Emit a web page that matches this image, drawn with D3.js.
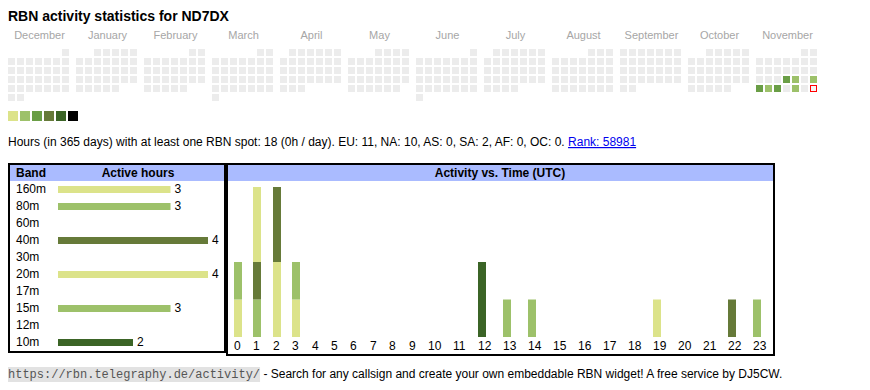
<!DOCTYPE html>
<html>
<head>
<meta charset="utf-8">
<script src="https://cdn.jsdelivr.net/npm/d3@7"></script>
<style>
  html, body { margin: 0; padding: 0; background: #fff; }
  svg { display: block; }
</style>
</head>
<body>
<svg id="chart" width="870" height="390" font-family="'Liberation Sans', Arial, Helvetica, sans-serif"></svg>
<script>
// ---------------- DATA ----------------
const title = "RBN activity statistics for ND7DX";
const months = ["December","January","February","March","April","May","June","July","August","September","October","November"];
const monthStarts = ["2024-12-01","2025-01-01","2025-02-01","2025-03-01","2025-04-01","2025-05-01","2025-06-01","2025-07-01","2025-08-01","2025-09-01","2025-10-01","2025-11-01"];
const levelColors = ["#dce38a","#9dc16a","#6a9e46","#667a39","#3b6426","#000000"];
const activeDays = ["2025-11-20","2025-11-21","2025-11-23","2025-11-24","2025-11-25","2025-11-26","2025-11-28"];
const activeLevels = [3, 2, 2, 3, 2, 3, 2];
const today = "2025-11-30";

const bands = ["160m","80m","60m","40m","30m","20m","17m","15m","12m","10m"];
const bandHours = [3, 3, 0, 4, 0, 4, 0, 3, 0, 2];
const bandColors = ["#dce38a","#9dc16a","#6a9e46","#667a39","#3b6426","#dce38a","#9dc16a","#9dc16a","#6a9e46","#3b6426"];

const hours = d3.range(24);
// hours per band, per UTC hour
const hourly160 = [1,0,2,0,0,0,0,0,0,0,0,0,0,0,0,0,0,0,0,0,0,0,0,0];
const hourly80  = [1,1,0,0,0,0,0,0,0,0,0,0,0,1,0,0,0,0,0,0,0,0,0,0];
const hourly40  = [0,1,2,0,0,0,0,0,0,0,0,0,0,0,0,0,0,0,0,0,0,0,1,0];
const hourly20  = [0,2,0,1,0,0,0,0,0,0,0,0,0,0,0,0,0,0,0,1,0,0,0,0];
const hourly15  = [0,0,0,1,0,0,0,0,0,0,0,0,0,0,1,0,0,0,0,0,0,0,0,1];
const hourly10  = [0,0,0,0,0,0,0,0,0,0,0,0,2,0,0,0,0,0,0,0,0,0,0,0];

const summaryText = "Hours (in 365 days) with at least one RBN spot: 18 (0h / day). EU: 11, NA: 10, AS: 0, SA: 2, AF: 0, OC: 0. ";
const rankText = "Rank: 58981";
const footerUrl = "https://rbn.telegraphy.de/activity/";
const footerText = " - Search for any callsign and create your own embeddable RBN widget! A free service by DJ5CW.";

// ---------------- DRAW ----------------
const svg = d3.select("#chart");

svg.append("text").attr("x", 8).attr("y", 21)
  .attr("font-size", 14).attr("font-weight", "bold").attr("fill", "#000").text(title);

// Calendar heatmap
const monthX = d3.scaleBand().domain(d3.range(12)).range([8, 819]).paddingInner(5/68).paddingOuter(0);
const dayX = d3.scaleBand().domain(d3.range(7)).range([0, 61]).paddingInner(2/9).paddingOuter(0);
const weekY = d3.scaleBand().domain(d3.range(6)).range([49, 101]).paddingInner(2/9).paddingOuter(0);
const levelColor = d3.scaleOrdinal().domain([1,2,3,4,5,6]).range(levelColors);
const parse = d3.utcParse("%Y-%m-%d");
const fmt = d3.utcFormat("%Y-%m-%d");
const activeMap = new Map(activeDays.map((d, i) => [d, activeLevels[i]]));

const cal = svg.append("g");
months.forEach((m, mi) => {
  const start = parse(monthStarts[mi]);
  const end = d3.utcMonth.offset(start, 1);
  const firstMonday = d3.utcMonday.floor(start);
  cal.append("text")
    .attr("x", monthX(mi) + monthX.bandwidth() / 2).attr("y", 39)
    .attr("text-anchor", "middle").attr("font-size", 11).attr("fill", "#a6a6a6")
    .text(m);
  const days = d3.utcDay.range(start, end);
  cal.append("g").selectAll("rect").data(days).join("rect")
    .attr("class", "day")
    .attr("x", d => monthX(mi) + dayX((d.getUTCDay() + 6) % 7))
    .attr("y", d => weekY(d3.utcMonday.count(firstMonday, d)))
    .attr("width", dayX.bandwidth()).attr("height", weekY.bandwidth())
    .attr("fill", d => activeMap.has(fmt(d)) ? levelColor(activeMap.get(fmt(d))) : "#ececec");
});
// today's cell: red outline
cal.selectAll("rect.day").filter(d => fmt(d) === today)
  .attr("x", function() { return +d3.select(this).attr("x") + 0.5; })
  .attr("y", function() { return +d3.select(this).attr("y") + 0.5; })
  .attr("width", dayX.bandwidth() - 1).attr("height", weekY.bandwidth() - 1)
  .attr("fill", "#f6f6f6").attr("stroke", "#ff0000").attr("stroke-width", 1);

// Legend
const legX = d3.scaleBand().domain(d3.range(levelColors.length)).range([8, 78]).paddingInner(2/12);
svg.append("g").selectAll("rect").data(levelColors).join("rect")
  .attr("x", (d, i) => legX(i)).attr("y", 111)
  .attr("width", legX.bandwidth()).attr("height", 10).attr("fill", d => d);

// Summary line
const summary = svg.append("text").attr("x", 8).attr("y", 146).attr("font-size", 12).attr("fill", "#000")
  .style("white-space", "pre");
summary.append("tspan").text(summaryText);
summary.append("tspan").attr("fill", "#0000ee").attr("text-decoration", "underline").text(rankText);

// ---- Band table (left box) ----
const left = svg.append("g");
left.append("rect").attr("x", 9).attr("y", 164).attr("width", 216).attr("height", 188)
  .attr("fill", "#fff").attr("stroke", "#000").attr("stroke-width", 2);
left.append("rect").attr("x", 10).attr("y", 165).attr("width", 214).attr("height", 16).attr("fill", "#aabbff");
left.append("text").attr("x", 16).attr("y", 177).attr("font-size", 12).attr("font-weight", "bold").text("Band");
left.append("text").attr("x", 138).attr("y", 177).attr("font-size", 12).attr("font-weight", "bold")
  .attr("text-anchor", "middle").text("Active hours");

const rowY = d3.scalePoint().domain(bands).range([193, 346]);
const hoursX = d3.scaleLinear().domain([0, 4]).range([58, 208]);
const bandColor = d3.scaleOrdinal().domain(bands).range(bandColors);
const rows = left.selectAll("g.row").data(bands.map((b, i) => ({ band: b, v: bandHours[i] }))).join("g");
rows.append("text").attr("x", 16).attr("y", d => rowY(d.band)).attr("font-size", 12).text(d => d.band);
rows.filter(d => d.v > 0).append("rect")
  .attr("x", hoursX(0)).attr("y", d => rowY(d.band) - 7)
  .attr("width", d => hoursX(d.v) - hoursX(0)).attr("height", 7)
  .attr("fill", d => bandColor(d.band));
rows.filter(d => d.v > 0).append("text")
  .attr("x", d => hoursX(d.v) + 4).attr("y", d => rowY(d.band)).attr("font-size", 12).text(d => d.v);

// ---- Activity vs time (right box) ----
const right = svg.append("g");
right.append("rect").attr("x", 227).attr("y", 164).attr("width", 547).attr("height", 191)
  .attr("fill", "#fff").attr("stroke", "#000").attr("stroke-width", 2);
right.append("rect").attr("x", 228).attr("y", 165).attr("width", 545).attr("height", 16).attr("fill", "#aabbff");
right.append("text").attr("x", 500).attr("y", 177).attr("font-size", 12).attr("font-weight", "bold")
  .attr("text-anchor", "middle").text("Activity vs. Time (UTC)");

// column positions like an auto-layout table: width depends on label length
const colW = hours.map(h => 13.8 + 5.6 * String(h).length);
const lefts = colW.map((w, i) => 234 + d3.sum(colW.slice(0, i)));
const hourX = d3.scaleOrdinal().domain(hours).range(lefts.map(Math.round));
const actY = d3.scaleLinear().domain([0, 4]).range([337, 187]);

const tableRows = hours.map(h => ({
  hour: h, "160m": hourly160[h], "80m": hourly80[h], "40m": hourly40[h],
  "20m": hourly20[h], "15m": hourly15[h], "10m": hourly10[h]
}));
const stackKeys = ["160m","80m","40m","20m","15m","10m"];
const series = d3.stack().keys(stackKeys)(tableRows);
right.selectAll("g.layer").data(series).join("g")
  .attr("fill", d => bandColor(d.key))
  .selectAll("rect").data(d => d.filter(p => p[1] > p[0])).join("rect")
  .attr("x", d => hourX(d.data.hour)).attr("width", 8)
  .attr("y", d => actY(d[1])).attr("height", d => actY(d[0]) - actY(d[1]));

right.selectAll("text.hr").data(hours).join("text")
  .attr("x", d => hourX(d)).attr("y", 350).attr("font-size", 12).text(d => d);

// ---- Footer ----
const footer = svg.append("g");
const urlBg = footer.append("rect").attr("x", 8).attr("y", 367).attr("height", 15).attr("fill", "#e2e2e2");
const urlText = footer.append("text").attr("x", 8).attr("y", 378)
  .attr("font-family", "'Liberation Mono', 'Courier New', monospace").attr("font-size", 12)
  .attr("fill", "#555").text(footerUrl);
const uw = urlText.node().getComputedTextLength();
urlBg.attr("width", uw);
footer.append("text").attr("x", 8 + uw).attr("y", 378).attr("font-size", 12).attr("fill", "#000")
  .style("white-space", "pre").text(footerText);
</script>
</body>
</html>
